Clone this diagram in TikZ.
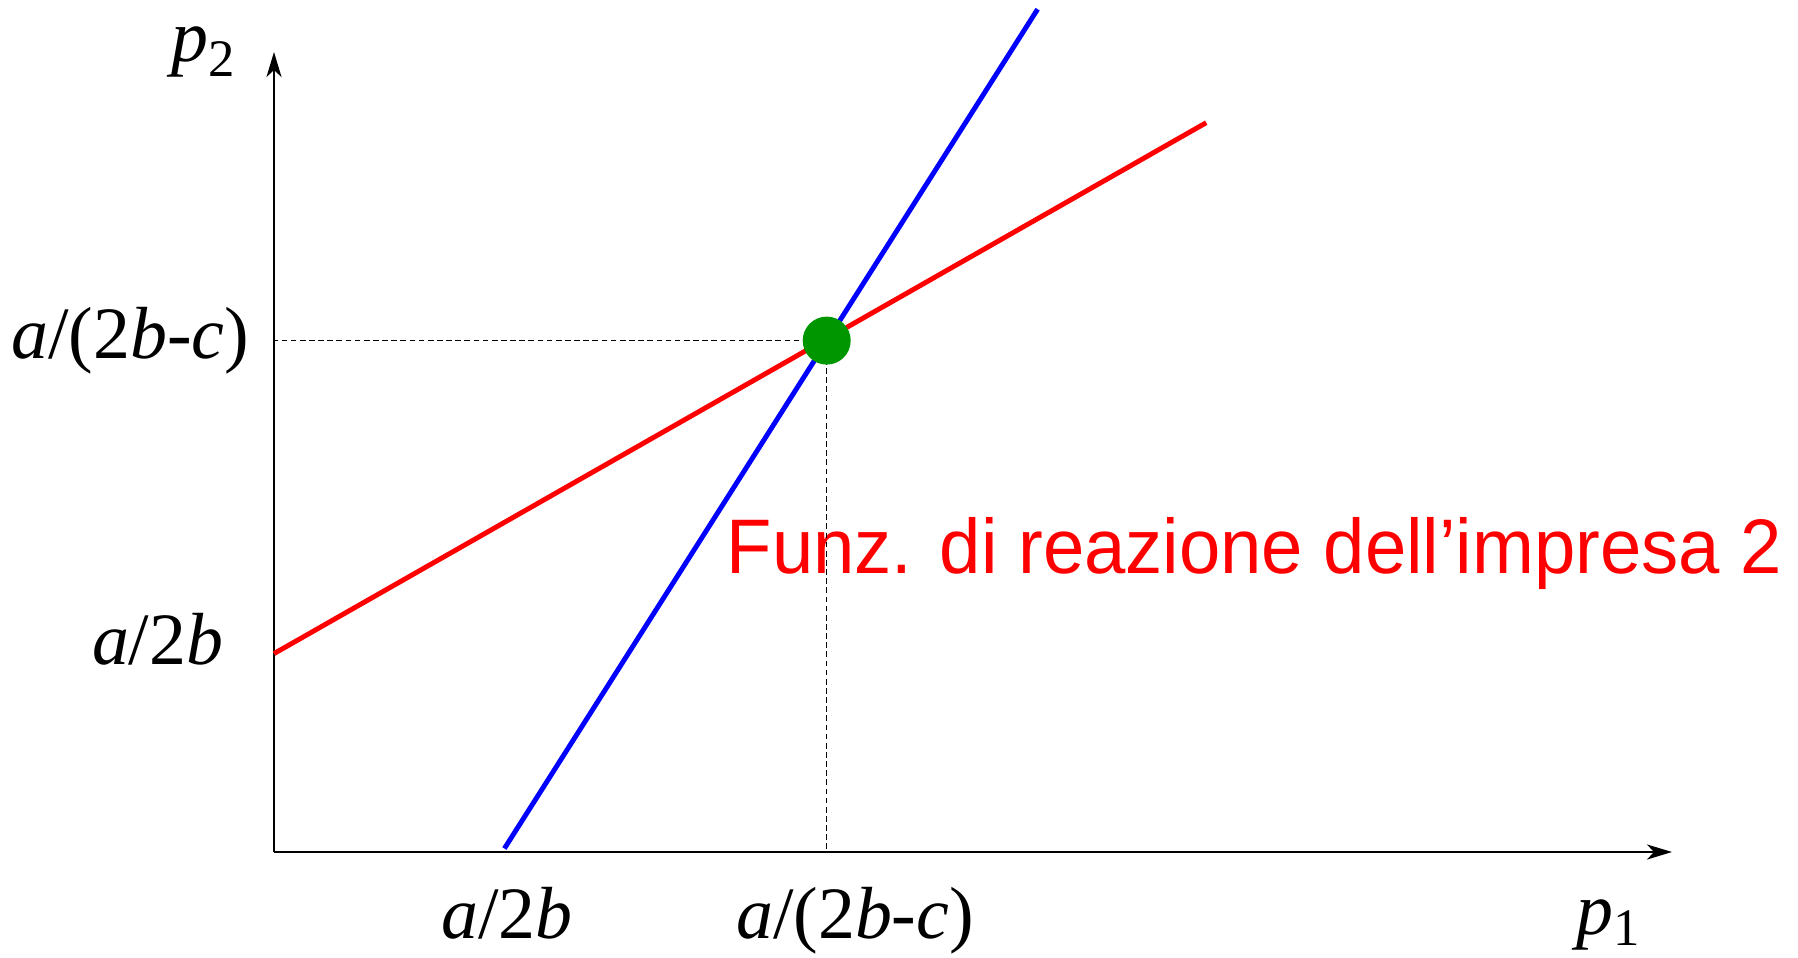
\documentclass[tikz,border=0pt]{standalone}
\usepackage{fontspec}
\setmainfont{Liberation Serif}
\newfontfamily\reactfont{Liberation Sans}
\usetikzlibrary{arrows.meta}
\definecolor{eqgreen}{RGB}{0,150,0}

\begin{document}
\begin{tikzpicture}[x=0.01cm,y=0.01cm]
	\useasboundingbox (-274,-105) rectangle (1524,852);
	\coordinate (O) at (0,0);
	\coordinate (Ytop) at (0,800);
	\coordinate (Xend) at (1398,0);
	\coordinate (R1) at (0,198.4);
	\coordinate (R2) at (932.2,729.3);
	\coordinate (B1) at (230.4,3.5);
	\coordinate (B2) at (763.6,842.8);
	\coordinate (E) at (552.7,511.4);
	\begin{scope}[every node/.style={inner sep=0pt,font=\fontsize{21}{25}\selectfont}]
	\node[anchor=base east] (Yeq) at (-24,493) {\textit{a}/(2\textit{b}-\textit{c})};
	\node[anchor=base east] (Yint) at (-50,188) {\textit{a}/2\textit{b}};
	\node[anchor=base] (Xint) at (233,-86) {\textit{a}/2\textit{b}};
	\node[anchor=base] (Xeq) at (581,-86) {\textit{a}/(2\textit{b}-\textit{c})};
	\node[anchor=base] (P1) at (1334,-82) {\textit{p}\raisebox{-0.15em}{\fontsize{15}{15}\selectfont 1}};
	\node[anchor=base] (P2) at (-71,790) {\textit{p}\raisebox{-0.2em}{\fontsize{15}{15}\selectfont 2}};
	\end{scope}
	\node[anchor=base west,inner sep=0pt,text=red,font=\reactfont\fontsize{22}{26}\selectfont] (R2lab) at (452,279) {\scalebox{0.96}[1]{Funz. di reazione dell’impresa 2}};
	\draw [line width=0.65pt,-{Stealth[length=0.25cm,width=0.15cm,inset=0.07cm]}] (O) -- (Xend);
	\draw [line width=0.65pt,-{Stealth[length=0.25cm,width=0.15cm,inset=0.07cm]}] (O) -- (Ytop);
	\draw [line width=0.4pt,dash pattern=on 1.6pt off 1pt] (E) -- (O |- E);
	\draw [line width=0.4pt,dash pattern=on 1.6pt off 1pt] (E) -- (E |- O);
	\draw [line width=1.4pt,red] (R1) -- (R2);
	\draw [line width=1.4pt,blue] (B1) -- (B2);
	\fill [eqgreen] (E) circle (24);
\end{tikzpicture}
\end{document}
